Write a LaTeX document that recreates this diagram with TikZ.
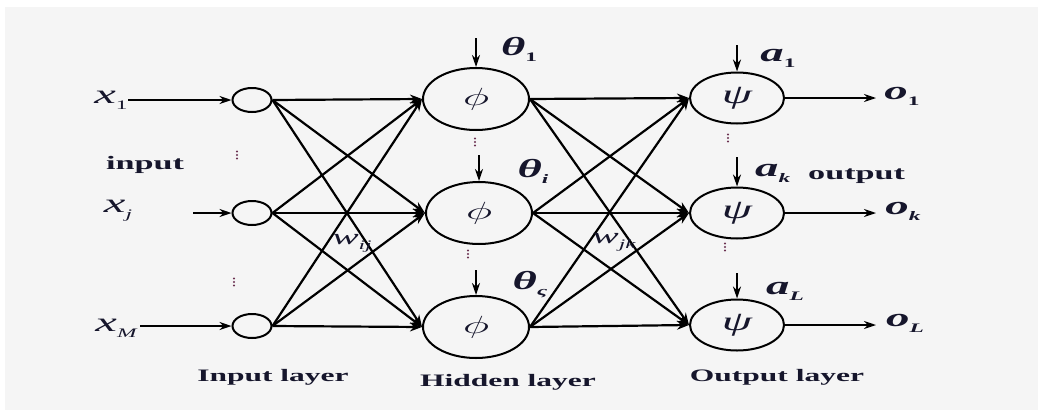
\documentclass[tikz,border=0pt]{standalone}
\usepackage{fontspec}
\setmainfont{Liberation Serif}
\usepackage{graphicx}
\usetikzlibrary{arrows.meta,shapes.geometric}
\definecolor{bg}{HTML}{F5F5F5}
\definecolor{ink}{HTML}{16162C}
\definecolor{dotc}{HTML}{6A3050}
% widened lettering
\newcommand\W[1]{\scalebox{1.8}[1]{#1}}
\newcommand\sub[1]{\raisebox{-0.5ex}{\fontsize{13}{13}\selectfont #1}}
\begin{document}
\begin{tikzpicture}[x=1pt,y=-1pt,
  unit/.style={draw=black, line width=2pt, ellipse, inner sep=0pt, text=ink},
  inunit/.style={unit, minimum width=39pt, minimum height=24pt},
  hidunit/.style={unit, minimum width=106pt, minimum height=62pt, font=\fontsize{30}{30}\selectfont},
  outunit/.style={unit, minimum width=94pt, minimum height=51pt, font=\fontsize{27}{27}\selectfont\itshape},
  wire/.style={line width=2.2pt, -{Stealth[length=12pt,width=9pt]}},
  feed/.style={line width=1.6pt, -{Stealth[length=12pt,width=8pt]}},
  sym/.style={text=ink, inner sep=0pt, font=\fontsize{27}{27}\selectfont\itshape},
  bsym/.style={sym, font=\fontsize{26}{26}\selectfont\bfseries\itshape},
  word/.style={text=ink, inner sep=0pt, font=\fontsize{17.5}{17.5}\selectfont\bfseries},
  elide/.style={fill=dotc}
]
% canvas
\fill[white] (0,0) rectangle (1038,410);
\fill[bg] (5,7) rectangle (1038,410);
\useasboundingbox (0,0) rectangle (1038,410);

% units
\node[inunit] (in1) at (252,100) {};
\node[inunit] (in2) at (252,213) {};
\node[inunit] (in3) at (252,326) {};
\node[hidunit] (h1) at (476,99) {\W{$\phi$}};
\node[hidunit] (h2) at (479,213) {\W{$\phi$}};
\node[hidunit] (h3) at (476,327) {\W{$\phi$}};
\node[outunit] (o1) at (737,98) {\W{ψ}};
\node[outunit] (o2) at (737,213) {\W{ψ}};
\node[outunit] (o3) at (737,325) {\W{ψ}};

% full connections
\foreach \a in {in1,in2,in3}
  \foreach \b in {h1,h2,h3}
    \draw[wire] (\a.east) -- (\b.west);
\foreach \a in {h1,h2,h3}
  \foreach \b in {o1,o2,o3}
    \draw[wire] (\a.east) -- (\b.west);

% inputs
\node[sym] (lx1) at (111,100) {\W{x\sub{\upshape 1}}};
\node[sym] (lxj) at (118,211) {\W{x\sub{j}}};
\node[sym] (lxM) at (116,328) {\W{x\sub{M}}};
\coordinate (sx1) at (128,100);
\coordinate (sxj) at (193,213);
\coordinate (sxM) at (140,326);
\draw[feed] (sx1) -- (in1.west);
\draw[feed] (sxj) -- (in2.west);
\draw[feed] (sxM) -- (in3.west);
\node[word, font=\fontsize{19}{19}\selectfont\bfseries] (inw) at (145,165) {\W{input}};

% hidden biases
\coordinate (b1) at (476,38);
\coordinate (b2) at (479,155);
\coordinate (b3) at (476,270);
\draw[feed] (b1) -- (h1.north);
\draw[feed] (b2) -- (h2.north);
\draw[feed] (b3) -- (h3.north);
\node[bsym] (t1) at (519,49) {\W{θ\sub{\upshape 1}}};
\node[bsym] (t2) at (533,171) {\W{θ\sub{i}}};
\node[bsym] (t3) at (530,285) {\W{θ\sub{ς}}};

% output biases
\coordinate (c1) at (737,45);
\coordinate (c2) at (737,157);
\coordinate (c3) at (737,273);
\draw[feed] (c1) -- (o1.north);
\draw[feed] (c2) -- (o2.north);
\draw[feed] (c3) -- (o3.north);
\node[bsym] (a1) at (778,58) {\W{a\sub{\upshape 1}}};
\node[bsym, anchor=west] (ak) at (755,173) {\W{a\sub{k}}};
\node[word, font=\fontsize{19}{19}\selectfont\bfseries, anchor=west] (outw) at (808,176) {\W{output}};
\node[bsym] (aL) at (785,291) {\W{a\sub{L}}};

% outputs
\coordinate (e1) at (876,98);
\coordinate (e2) at (876,213);
\coordinate (e3) at (876,325);
\draw[feed] (o1.east) -- (e1);
\draw[feed] (o2.east) -- (e2);
\draw[feed] (o3.east) -- (e3);
\node[bsym] (y1) at (902,96) {\W{o\sub{\upshape 1}}};
\node[bsym] (y2) at (903,211) {\W{o\sub{k}}};
\node[bsym] (y3) at (905,323) {\W{o\sub{L}}};

% weights
\node[sym, font=\fontsize{22}{22}\selectfont\itshape] (wij) at (352,243) {\W{w\sub{ij}}};
\node[sym, font=\fontsize{22}{22}\selectfont\itshape] (wjk) at (614,242) {\W{w\sub{jk}}};

% elided units: three small dots each
\coordinate (d1) at (237,155);
\coordinate (d2) at (234,282);
\coordinate (d3) at (475,142);
\coordinate (d4) at (468,254);
\coordinate (d5) at (728,138);
\coordinate (d6) at (725,247);
\foreach \d in {d1,d2,d3,d4,d5,d6}
  \fill[elide] (\d) ++(0,-3.5) circle (1.1) ++(0,3.5) circle (1.1) ++(0,3.5) circle (1.1);

% layer captions
\node[word] (cin) at (273,377) {\W{Input layer}};
\node[word] (chid) at (508,382) {\W{Hidden layer}};
\node[word] (cout) at (777,377) {\W{Output layer}};
\end{tikzpicture}
\end{document}
